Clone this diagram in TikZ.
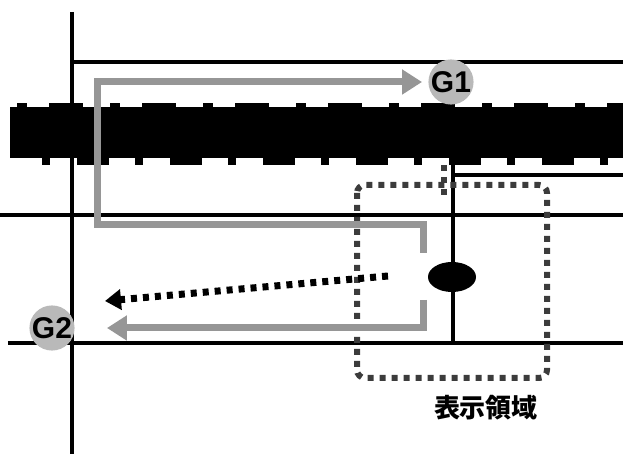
\documentclass[tikz,border=0pt]{standalone}
\usepackage{fontspec}
\setmainfont{Liberation Sans}
\newfontfamily\cjkFont{Noto Sans CJK JP}
\usetikzlibrary{positioning,arrows.meta,shapes.geometric}
\definecolor{routeGray}{RGB}{150,150,150}
\definecolor{markGray}{RGB}{185,185,185}
\definecolor{frameDark}{RGB}{60,60,60}

\begin{document}
\begin{tikzpicture}[
    x=0.5pt, y=-0.5pt,
    wire/.style={line width=2pt},
    route/.style={routeGray, line width=3.5pt,
        -{Triangle[length=10pt,width=12pt]}},
    moveDots/.style={line width=3.5pt, dash pattern=on 3pt off 3pt,
        -{Triangle[length=8pt,width=10pt]}},
    dispFrame/.style={frameDark, line width=3pt,
        dash pattern=on 3pt off 3pt, rounded corners=4pt},
    gMark/.style={circle, fill=markGray, minimum size=20pt, inner sep=0pt,
        font=\fontsize{15}{15}\selectfont\bfseries}
]
\useasboundingbox (0,0) rectangle (623,454);

% road band with teeth
\fill (10,107) rectangle (623,158);
\foreach \x in {17,110,203,296,389,482,575}{
    \fill (\x,103) rectangle ++(10,5);
    \fill (\x+32,103) rectangle ++(34,5);
}
\foreach \x in {42,135,228,321,414,507,600}{
    \fill (\x,157) rectangle ++(8,8);
}
\foreach \x in {77,170,263,356,449,542}{
    \fill (\x,157) rectangle ++(32,8);
}

% lines
\draw[wire] (72,12) -- (72,454);
\draw[wire] (72,62) -- (623,62);
\draw[wire] (0,215) -- (623,215);
\draw[wire] (8,343) -- (623,343);
\draw[wire] (453,158) -- (453,345);
\draw[wire] (453,175) -- (623,175);

% display area
\draw[dispFrame] (357,185) rectangle (547,378);
\draw[dispFrame] (444,165) -- (444,200);
\node (areaLabel) at (486,408) {\fontsize{13}{13}\selectfont\cjkFont\bfseries 表示領域};

\node[ellipse, fill, minimum width=24pt, minimum height=15pt, inner sep=0pt]
    (dispObj) at (452,277) {};

% markers
\node[gMark] (G1) at (451,82) {G1};
\node[gMark] (G2) at (52,328) {G2};

% routes
\coordinate (g1Start) at (423,253);
\coordinate (g2Start) at (423,300);
\coordinate (dotStart) at (388,276);
\coordinate (dotEnd) at (105,301);
\draw[route, shorten >=3pt] (g1Start) -- (423,225) -- (97,225) -- (97,82) -- (G1.west);
\draw[route, shorten >=16pt] (g2Start) -- (423,328) -- (G2.east);
\draw[moveDots] (dotStart) -- (dotEnd);
\end{tikzpicture}
\end{document}
